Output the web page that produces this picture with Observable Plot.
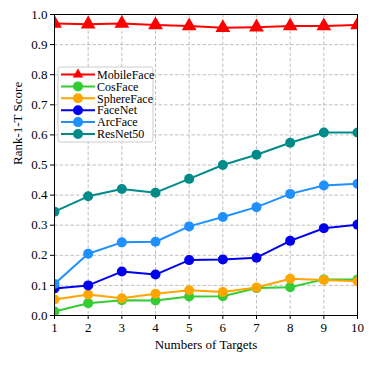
<!DOCTYPE html>
<html><head><meta charset="utf-8">
<script src="https://cdn.jsdelivr.net/npm/d3@7"></script>
<script src="https://cdn.jsdelivr.net/npm/@observablehq/plot@0.6"></script>
<style>body{margin:0;background:#fff}</style>
</head><body><div id="chart"></div>
<script>
const targets = [1,2,3,4,5,6,7,8,9,10];
const seriesNames = ["MobileFace","CosFace","SphereFace","FaceNet","ArcFace","ResNet50"];
const seriesColors = ["#ff0000","#33cc33","#ffa500","#0000ee","#1e90ff","#008b8b"];
const seriesSymbols = ["triangle","circle","circle","circle","circle","circle"];
const mobileFace = [0.970,0.968,0.970,0.965,0.962,0.956,0.958,0.962,0.962,0.965];
const cosFace    = [0.013,0.041,0.051,0.050,0.063,0.064,0.091,0.094,0.120,0.120];
const sphereFace = [0.053,0.070,0.057,0.072,0.084,0.078,0.093,0.122,0.118,0.114];
const faceNet    = [0.090,0.100,0.146,0.136,0.184,0.186,0.192,0.248,0.290,0.302];
const arcFace    = [0.105,0.205,0.243,0.245,0.296,0.327,0.360,0.404,0.432,0.438];
const resNet50   = [0.345,0.396,0.420,0.408,0.454,0.500,0.534,0.574,0.608,0.608];
const yTicks = [0,0.1,0.2,0.3,0.4,0.5,0.6,0.7,0.8,0.9,1.0];

const allSeries = [mobileFace,cosFace,sphereFace,faceNet,arcFace,resNet50];
const rows = [];
allSeries.forEach((vals,i)=>vals.forEach((v,j)=>rows.push({series:seriesNames[i],x:targets[j],y:v})));

const font = "Liberation Serif, serif";
const marks = [
  Plot.gridX(targets,{stroke:"#b0b0b0",strokeOpacity:1,strokeDasharray:"3.5,2",strokeWidth:0.8}),
  Plot.gridY(yTicks,{stroke:"#b0b0b0",strokeOpacity:1,strokeDasharray:"3.5,2",strokeWidth:0.8}),
];
seriesNames.forEach((name,i)=>{
  const d = rows.filter(r=>r.series===name);
  marks.push(Plot.line(d,{x:"x",y:"y",stroke:seriesColors[i],strokeWidth:2,clip:true}));
  marks.push(Plot.dot(d,{x:"x",y:"y",fill:seriesColors[i],stroke:"none",symbol:seriesSymbols[i],r:seriesSymbols[i]==="triangle"?5.5:5,clip:true}));
});
marks.push(Plot.frame({stroke:"#000",strokeWidth:1}));
marks.push(Plot.axisX(targets,{tickSize:4,tickPadding:3,label:null,fontSize:13,tickFormat:d=>String(d)}));
marks.push(Plot.axisY(yTicks,{tickSize:4,tickPadding:3,label:null,fontSize:13,tickFormat:d3.format(".1f")}));
marks.push(Plot.text(["Numbers of Targets"],{frameAnchor:"bottom",dy:33,fontSize:13}));
marks.push(Plot.text(["Rank-1-T Score"],{frameAnchor:"left",dx:-37,rotate:-90,fontSize:13}));

const chart = Plot.plot({
  width:374,height:365,
  marginLeft:54,marginRight:17,marginTop:14,marginBottom:50,
  x:{domain:[1,10]},
  y:{domain:[0,1]},
  style:{fontFamily:font,fontSize:"13px",color:"#000",background:"#fff"},
  marks
});
document.getElementById("chart").appendChild(chart);

// legend overlay
const svg = d3.select(chart);
const lg = svg.append("g").attr("font-family",font).attr("font-size",12).attr("text-anchor","start");
lg.append("rect").attr("x",58).attr("y",67).attr("width",95).attr("height",75).attr("rx",2.5)
  .attr("fill","#fff").attr("fill-opacity",0.85).attr("stroke","#cccccc").attr("stroke-width",1);
seriesNames.forEach((name,i)=>{
  const cy = 74.5 + i*11.9;
  lg.append("line").attr("x1",61).attr("x2",95).attr("y1",cy).attr("y2",cy).attr("stroke",seriesColors[i]).attr("stroke-width",2);
  if (seriesSymbols[i]==="triangle") {
    lg.append("path").attr("d",d3.symbol(d3.symbolTriangle2, 80)()).attr("transform",`translate(78,${cy})`).attr("fill",seriesColors[i]);
  } else {
    lg.append("circle").attr("cx",78).attr("cy",cy).attr("r",5).attr("fill",seriesColors[i]);
  }
  lg.append("text").attr("x",97).attr("y",cy).attr("dy","0.35em").attr("text-anchor","start").text(name);
});
</script></body></html>
